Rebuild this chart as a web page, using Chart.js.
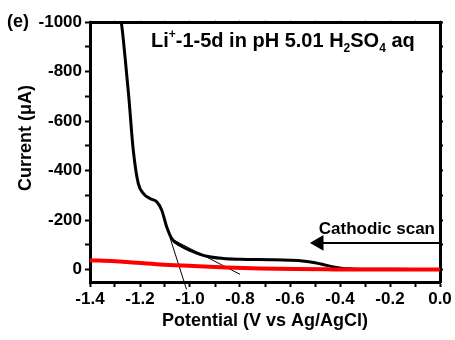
<!DOCTYPE html>
<html>
<head>
<meta charset="utf-8">
<script src="https://cdn.jsdelivr.net/npm/chart.js@4"></script>
<style>
  html, body { margin: 0; padding: 0; background: #fff; }
  #wrap { width: 455px; height: 340px; position: relative; }
</style>
</head>
<body>
<div id="wrap"><canvas id="cv"></canvas></div>
<script>
// --- data ---
const blackX = [-1.28, -1.27, -1.26, -1.245, -1.227, -1.207, -1.187, -1.16, -1.133, -1.113, -1.093, -1.073, -1.04, -1.0, -0.933, -0.867, -0.8, -0.667, -0.6, -0.55, -0.5, -0.453, -0.42, -0.388, -0.35, -0.3, -0.2, -0.1, 0.0];
const blackY = [-1040, -960, -860, -700, -483, -348, -308, -287, -274, -240, -172, -125, -98, -78, -54, -45, -42, -40, -38, -35, -28, -17, -10, -5, -3, -1.5, -1, -0.5, 0];

const redX = [-1.4, -1.3, -1.253, -1.12, -0.987, -0.853, -0.72, -0.587, -0.45, -0.3, -0.15, 0.0];
const redY = [-38, -34, -31, -21, -15, -9, -5, -2.5, -1, 0, 0, 0];

// tangent lines
const tan1X = [-1.08, -1.014];
const tan1Y = [-129, 80];
const tan2X = [-1.072, -0.8];
const tan2Y = [-123, 19];

// arrow "Cathodic scan"
const arrowX = [-0.484, 0.0];
const arrowY = [-108, -108];

const xTicks = [-1.4, -1.3, -1.2, -1.1, -1.0, -0.9, -0.8, -0.7, -0.6, -0.5, -0.4, -0.3, -0.2, -0.1, 0.0];
const yTicks = [-1000, -900, -800, -700, -600, -500, -400, -300, -200, -100, 0];

const pts = (xs, ys) => xs.map((x, i) => ({ x, y: ys[i] }));

const FONT = 'Arial, "Liberation Sans", sans-serif';

// --- text annotations drawn on canvas ---
const notes = {
  id: 'notes',
  afterDraw(chart) {
    const { ctx } = chart;
    ctx.save();
    ctx.fillStyle = '#000';
    ctx.textBaseline = 'alphabetic';

    // panel label
    ctx.font = 'bold 18px ' + FONT;
    ctx.textAlign = 'left';
    ctx.fillText('(e)', 7, 27);

    // title with super/subscripts
    let x = 151;
    const base = 47;
    const part = (t, size, dy) => {
      ctx.font = 'bold ' + size + 'px ' + FONT;
      ctx.fillText(t, x, base + dy);
      x += ctx.measureText(t).width;
    };
    part('Li', 20, 0);
    part('+', 12, -9);
    part('-1-5d in pH 5.01 H', 20, 0);
    part('2', 12, 5);
    part('SO', 20, 0);
    part('4', 12, 5);
    part(' aq', 20, 0);

    // cathodic scan label
    ctx.font = 'bold 17px ' + FONT;
    ctx.textAlign = 'right';
    ctx.fillText('Cathodic scan', 435, 234);

    // y axis title (sits higher than the axis centre in the original)
    ctx.translate(26, 138);
    ctx.rotate(-Math.PI / 2);
    ctx.font = 'bold 18px ' + FONT;
    ctx.textAlign = 'center';
    ctx.textBaseline = 'middle';
    ctx.fillText('Current (\u03bcA)', 0, 0);
    ctx.restore();
  }
};

new Chart(document.getElementById('cv'), {
  type: 'line',
  data: {
    datasets: [
      { data: pts(tan1X, tan1Y), borderColor: '#000', borderWidth: 1, pointRadius: 0, clip: false, order: 3 },
      { data: pts(tan2X, tan2Y), borderColor: '#000', borderWidth: 1, pointRadius: 0, order: 3 },
      { data: pts(blackX, blackY), borderColor: '#000', borderWidth: 3, pointRadius: 0, cubicInterpolationMode: 'monotone', order: 2 },
      { data: pts(redX, redY), borderColor: '#ff0000', borderWidth: 4, pointRadius: 0, cubicInterpolationMode: 'monotone', order: 1 },
      { data: pts(arrowX, arrowY), borderColor: '#000', backgroundColor: '#000', borderWidth: 2,
        pointStyle: 'triangle', pointRadius: [7, 0], pointRotation: [-90, 0], order: 0 }
    ]
  },
  options: {
    responsive: true,
    maintainAspectRatio: false,
    animation: false,
    events: [],
    layout: { padding: 0 },
    plugins: { legend: { display: false }, tooltip: { enabled: false } },
    scales: {
      x: {
        type: 'linear', position: 'bottom', min: -1.4, max: 0,
        afterBuildTicks: s => { s.ticks = xTicks.map(v => ({ value: v })); },
        afterFit: s => { s.height = 58; },
        border: { color: '#000', width: 3 },
        grid: { drawOnChartArea: false, color: '#000', tickLength: 5, tickWidth: 2 },
        ticks: {
          color: '#000', padding: 2, maxRotation: 0, autoSkip: false,
          font: { family: FONT, size: 17, weight: 'bold' },
          callback: v => Math.round(v * 10) % 2 === 0 ? v.toFixed(1) : ''
        },
        title: {
          display: true, text: 'Potential (V vs Ag/AgCl)', color: '#000',
          font: { family: FONT, size: 18, weight: 'bold' }, padding: { top: 0, bottom: 8 }
        }
      },
      y: {
        type: 'linear', position: 'left', min: -1000, max: 50, reverse: true,
        afterBuildTicks: s => { s.ticks = yTicks.map(v => ({ value: v })); },
        afterFit: s => { s.width = 90; },
        border: { color: '#000', width: 3 },
        grid: { drawOnChartArea: false, color: '#000', tickLength: 5, tickWidth: 2 },
        ticks: {
          color: '#000', padding: 3, autoSkip: false,
          font: { family: FONT, size: 17, weight: 'bold' },
          callback: v => v % 200 === 0 ? String(v) : ''
        }
      },
      xTop: {
        type: 'linear', position: 'top', min: -1.4, max: 0,
        afterBuildTicks: s => { s.ticks = xTicks.map(v => ({ value: v })); },
        afterFit: s => { s.height = 22; },
        border: { color: '#000', width: 3 },
        grid: { drawOnChartArea: false, color: '#bbb', tickLength: 2, tickWidth: 1 },
        ticks: { display: false }
      },
      yRight: {
        type: 'linear', position: 'right', min: -1000, max: 50, reverse: true,
        afterBuildTicks: s => { s.ticks = yTicks.map(v => ({ value: v })); },
        afterFit: s => { s.width = 15; },
        border: { color: '#000', width: 3 },
        grid: { drawOnChartArea: false, color: '#000', tickLength: 3, tickWidth: 2 },
        ticks: { display: false }
      }
    }
  },
  plugins: [notes]
});
</script>
</body>
</html>
